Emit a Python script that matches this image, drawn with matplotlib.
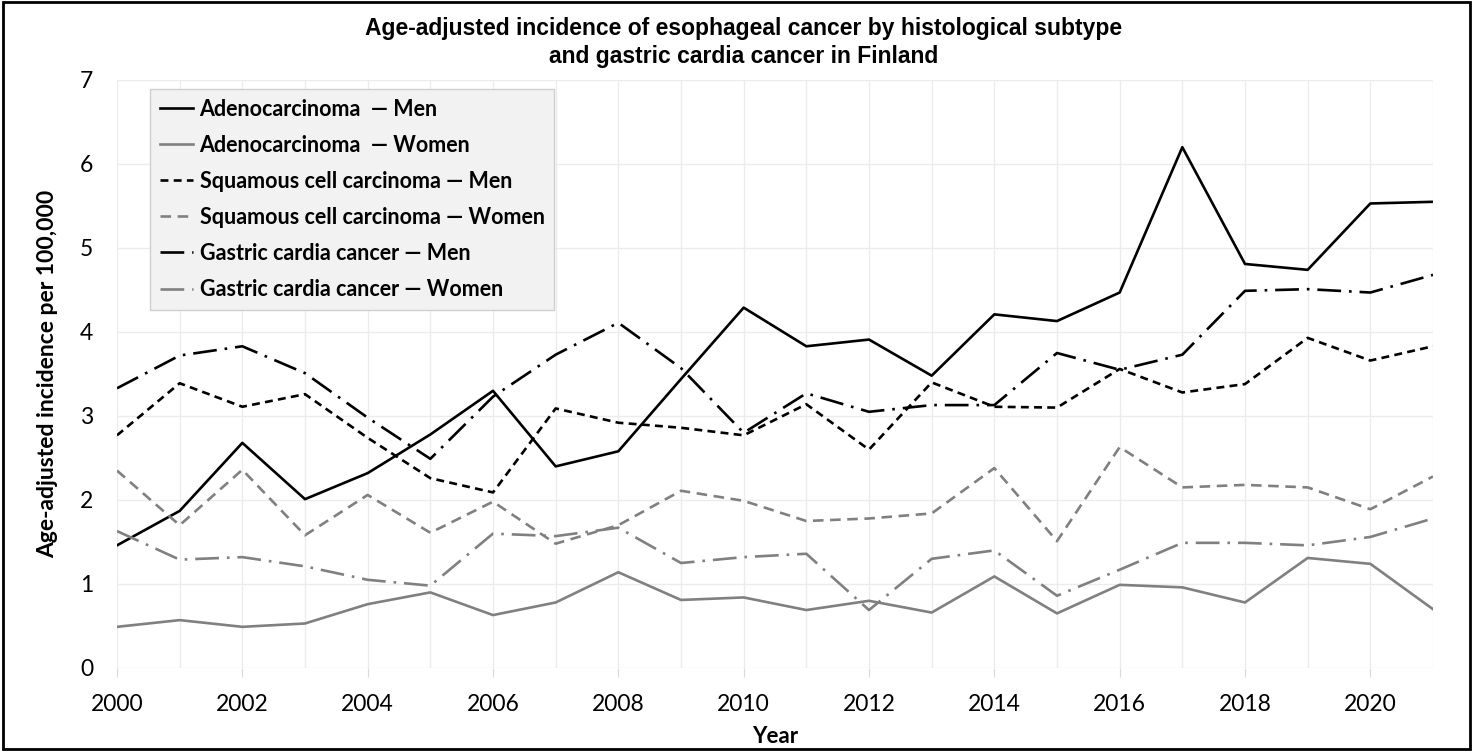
import matplotlib.pyplot as plt
from matplotlib.patches import Rectangle

years = list(range(2000, 2022))

adeno_men = [1.46, 1.87, 2.68, 2.01, 2.32, 2.78, 3.30, 2.40, 2.58, 3.44, 4.29,
             3.83, 3.91, 3.48, 4.21, 4.13, 4.47, 6.20, 4.81, 4.74, 5.53, 5.55]
adeno_women = [0.49, 0.57, 0.49, 0.53, 0.76, 0.90, 0.63, 0.78, 1.14, 0.81, 0.84,
               0.69, 0.80, 0.66, 1.09, 0.65, 0.99, 0.96, 0.78, 1.31, 1.24, 0.70]
squam_men = [2.77, 3.39, 3.11, 3.26, 2.74, 2.26, 2.09, 3.09, 2.92, 2.86, 2.77,
             3.14, 2.60, 3.40, 3.11, 3.10, 3.56, 3.28, 3.38, 3.93, 3.66, 3.83]
squam_women = [2.35, 1.70, 2.36, 1.58, 2.06, 1.61, 1.98, 1.48, 1.70, 2.11, 1.99,
               1.75, 1.78, 1.84, 2.38, 1.51, 2.63, 2.15, 2.18, 2.15, 1.89, 2.28]
gastric_men = [3.33, 3.72, 3.83, 3.51, 2.98, 2.49, 3.23, 3.73, 4.11, 3.57, 2.80,
               3.27, 3.05, 3.13, 3.13, 3.75, 3.55, 3.73, 4.49, 4.51, 4.47, 4.68]
gastric_women = [1.63, 1.29, 1.32, 1.21, 1.05, 0.98, 1.60, 1.57, 1.67, 1.25, 1.32,
                 1.36, 0.69, 1.30, 1.40, 0.86, 1.17, 1.49, 1.49, 1.46, 1.56, 1.78]

labels = ['Adenocarcinoma  \u2014 Men', 'Adenocarcinoma  \u2014 Women',
          'Squamous cell carcinoma \u2014 Men', 'Squamous cell carcinoma \u2014 Women',
          'Gastric cardia cancer \u2014 Men', 'Gastric cardia cancer \u2014 Women']

plt.rcParams['font.family'] = ['Lato', 'DejaVu Sans']

BLACK = '#000000'
GRAY = '#808080'
lw = 1.9

fig = plt.figure(figsize=(14.73, 7.51), dpi=100)
ax = fig.add_axes([117 / 1473, 1 - 668 / 751, (1433 - 117) / 1473, (668 - 80) / 751])

ax.plot(years, adeno_men, color=BLACK, lw=lw, label=labels[0])
ax.plot(years, adeno_women, color=GRAY, lw=lw, label=labels[1])
ax.plot(years, squam_men, color=BLACK, lw=lw, linestyle=(0, (3, 2)), label=labels[2])
ax.plot(years, squam_women, color=GRAY, lw=lw, linestyle=(0, (4, 2.5)), label=labels[3])
ax.plot(years, gastric_men, color=BLACK, lw=lw, linestyle=(0, (9, 3, 1, 3)), label=labels[4])
ax.plot(years, gastric_women, color=GRAY, lw=lw, linestyle=(0, (9, 3, 1, 3)), label=labels[5])

ax.set_xlim(2000, 2021)
ax.set_ylim(0, 7)
ax.set_xticks(range(2000, 2022, 2))
ax.set_xticks(range(2000, 2022), minor=True)
ax.set_yticks(range(0, 8))
ax.grid(True, which='both', color='#ececec', lw=1)
ax.set_axisbelow(True)
for s in ax.spines.values():
    s.set_visible(False)
ax.tick_params(axis='x', which='major', length=6.5, color='#d9d9d9', labelsize=16.5, pad=12)
ax.tick_params(axis='x', which='minor', length=0)
ax.tick_params(axis='y', length=0, labelsize=16.5, pad=17)

ax.set_xlabel('Year', fontsize=16, fontweight='bold', labelpad=8)
ax.set_ylabel('Age-adjusted incidence per 100,000', fontsize=16.5, fontweight='bold', labelpad=16)

fig.text(0.505, 1 - 17 / 751,
         'Age-adjusted incidence of esophageal cancer by histological subtype\nand gastric cardia cancer in Finland',
         ha='center', va='top', fontsize=16.5, fontweight='bold', linespacing=1.25,
         family=['Liberation Sans Narrow', 'Liberation Sans', 'DejaVu Sans'])

leg = ax.legend(loc='upper left', bbox_to_anchor=((150 - 117) / 1316, (668 - 89) / 588),
                borderaxespad=0, prop={'weight': 'bold', 'size': 15.5},
                handlelength=1.55, handletextpad=0.3, labelspacing=0.7, borderpad=0.45,
                fancybox=False, framealpha=1)
leg.get_frame().set_facecolor('#f2f2f2')
leg.get_frame().set_edgecolor('#cfcfcf')

fig.patches.append(Rectangle((0.002, 0.003), 0.996, 0.994, transform=fig.transFigure,
                             fill=False, edgecolor='black', lw=2))

fig.savefig('out.png', dpi=100)
